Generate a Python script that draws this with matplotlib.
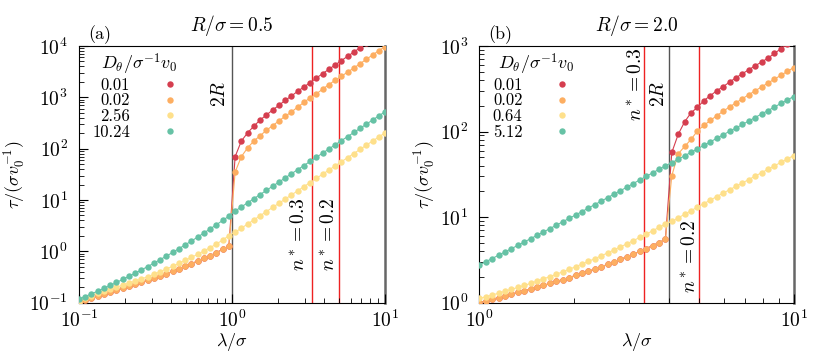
import matplotlib
matplotlib.use('Agg')
import matplotlib.pyplot as plt
from matplotlib.lines import Line2D
from matplotlib.ticker import LogLocator, NullFormatter

plt.rcParams['font.family'] = 'serif'
plt.rcParams['font.serif'] = ['cmr10']
plt.rcParams['mathtext.fontset'] = 'cm'
plt.rcParams['axes.formatter.use_mathtext'] = True

# ---- data: panel (a), R/sigma = 0.5 ----
lam_a = [0.1, 0.1099, 0.1207, 0.1326, 0.1456, 0.1600, 0.1758, 0.1931, 0.2121, 0.2330,
         0.2560, 0.2812, 0.3089, 0.3393, 0.3728, 0.4095, 0.4498, 0.4942, 0.5429, 0.5964,
         0.6551, 0.7197, 0.7906, 0.8685, 0.9541, 1.048, 1.151, 1.265, 1.389, 1.526,
         1.677, 1.842, 2.024, 2.223, 2.442, 2.683, 2.947, 3.237, 3.556, 3.907,
         4.292, 4.715, 5.179, 5.690, 6.251, 6.866, 7.543, 8.286, 9.103, 10.0]
red_a = [0.100, 0.111, 0.122, 0.133, 0.146, 0.159, 0.174, 0.191, 0.208, 0.228,
         0.249, 0.273, 0.303, 0.331, 0.368, 0.408, 0.454, 0.512, 0.576, 0.649,
         0.731, 0.824, 0.944, 1.10, 1.27, 70, 141, 204, 275, 362,
         453, 566, 699, 872, 1060, 1310, 1590, 1930, 2380, 2890,
         3520, 4270, 5180, 6300, 7620, 9260, 11300, 13700, 16600, 20000]
orange_a = [0.100, 0.111, 0.122, 0.133, 0.146, 0.159, 0.174, 0.191, 0.208, 0.228,
            0.249, 0.273, 0.303, 0.331, 0.368, 0.408, 0.454, 0.512, 0.576, 0.649,
            0.731, 0.824, 0.944, 1.10, 1.27, 35, 70, 104, 141, 179,
            228, 281, 347, 428, 517, 646, 795, 980, 1170, 1440,
            1770, 2150, 2560, 3110, 3720, 4520, 5510, 6680, 8110, 9760]
yellow_a = [0.105, 0.122, 0.137, 0.152, 0.167, 0.183, 0.200, 0.220, 0.241, 0.264,
            0.290, 0.322, 0.357, 0.403, 0.454, 0.512, 0.585, 0.669, 0.765, 0.875,
            1.02, 1.18, 1.39, 1.66, 2.02, 2.35, 2.83, 3.41, 4.10, 4.94,
            5.96, 7.17, 8.64, 10.4, 12.5, 15.1, 18.2, 21.9, 26.4, 31.8,
            38.3, 46.1, 55.6, 66.8, 80.5, 97.0, 117, 141, 169, 204]
green_a = [0.118, 0.132, 0.149, 0.168, 0.191, 0.217, 0.248, 0.284, 0.327, 0.377,
           0.436, 0.506, 0.590, 0.690, 0.810, 0.954, 1.13, 1.34, 1.59, 1.90,
           2.28, 2.74, 3.30, 4.00, 4.85, 6.10, 7.34, 8.84, 10.6, 12.8,
           15.4, 18.6, 22.3, 26.9, 32.4, 39.0, 46.9, 56.5, 68.1, 81.9,
           98.6, 119, 143, 172, 207, 249, 300, 361, 435, 524]
labels_a = ['0.01', '0.02', '2.56', '10.24']

# ---- data: panel (b), R/sigma = 2.0 ----
lam_b = [1.0, 1.048, 1.099, 1.151, 1.207, 1.265, 1.326, 1.389, 1.456, 1.526,
         1.600, 1.677, 1.758, 1.842, 1.931, 2.024, 2.121, 2.223, 2.330, 2.442,
         2.560, 2.683, 2.812, 2.947, 3.089, 3.237, 3.393, 3.556, 3.728, 3.907,
         4.095, 4.292, 4.498, 4.715, 4.942, 5.179, 5.429, 5.690, 5.964, 6.250,
         6.551, 6.866, 7.197, 7.543, 7.906, 8.286, 8.685, 9.102, 9.541, 10.0]
red_b = [1.00, 1.05, 1.09, 1.15, 1.20, 1.26, 1.32, 1.38, 1.45, 1.52,
         1.59, 1.68, 1.77, 1.86, 1.97, 2.08, 2.20, 2.33, 2.47, 2.63,
         2.80, 3.00, 3.21, 3.44, 3.69, 3.98, 4.30, 4.65, 5.05, 5.50,
         57, 93, 130, 166, 192, 230, 263, 300, 335, 379,
         426, 475, 528, 589, 650, 724, 820, 930, 1050, 1180]
orange_b = [1.00, 1.05, 1.09, 1.15, 1.20, 1.26, 1.32, 1.38, 1.45, 1.52,
            1.59, 1.68, 1.77, 1.86, 1.97, 2.08, 2.20, 2.33, 2.47, 2.63,
            2.80, 3.00, 3.21, 3.44, 3.69, 3.98, 4.30, 4.65, 5.05, 5.50,
            30.5, 55, 67, 81, 102, 118, 135, 153, 173, 194,
            217, 242, 270, 300, 333, 370, 410, 455, 505, 560]
yellow_b = [1.12, 1.17, 1.23, 1.29, 1.36, 1.43, 1.51, 1.59, 1.68, 1.79,
            1.90, 2.02, 2.15, 2.30, 2.46, 2.63, 2.83, 3.04, 3.27, 3.53,
            3.82, 4.14, 4.49, 4.88, 5.31, 5.79, 6.32, 6.92, 7.58, 8.33,
            8.9, 9.8, 10.8, 11.9, 13.1, 14.4, 15.8, 17.4, 19.1, 20.9,
            22.9, 25.1, 27.5, 30.2, 33.1, 36.3, 39.8, 43.6, 47.9, 52.5]
green_b = [2.75, 3.01, 3.28, 3.59, 3.92, 4.28, 4.68, 5.12, 5.60, 6.13,
           6.71, 7.35, 8.05, 8.83, 9.67, 10.6, 11.6, 12.8, 14.0, 15.4,
           16.9, 18.6, 20.4, 22.4, 24.7, 27.2, 29.9, 32.9, 36.2, 39.9,
           43.3, 47.5, 52.1, 57.3, 62.9, 69.1, 75.9, 83.4, 91.6, 101,
           110, 121, 133, 146, 161, 176, 194, 213, 234, 257]
labels_b = ['0.01', '0.02', '0.64', '5.12']

colors = ['#d53e4f', '#fdae61', '#fee08b', '#66c2a5']
n_star = [0.3, 0.2]


def draw_panel(ax, lam, series, labels, two_r, xlim, ylim, title, tag):
    ax.set_xscale('log')
    ax.set_yscale('log')
    ax.set_xlim(xlim)
    ax.set_ylim(ylim)

    ax.axvline(two_r, color='#555555', lw=1.0, zorder=1)
    ax.axvline(xlim[1], color='#666666', lw=1.8, zorder=1, clip_on=False)
    for n in n_star:
        ax.axvline(1.0 / n, color='#ee2222', lw=1.0, zorder=1)

    for y, c in zip(series, colors):
        ax.plot(lam, y, '-', color=c, lw=0.8, marker='o', ms=4.6, mew=0, zorder=3)

    handles = [Line2D([], [], ls='none', marker='o', ms=4.6, mew=0, color=c) for c in colors]
    leg = ax.legend(handles, labels, title=r'$D_\theta/\sigma^{-1}v_0$', loc='upper left',
                    bbox_to_anchor=(0.0, 1.03), frameon=False, markerfirst=False,
                    handlelength=2.0, handletextpad=1.4, labelspacing=0.02,
                    borderpad=0.3, fontsize=12, title_fontsize=13)
    for col in leg._legend_handle_box.get_children():
        col.align = 'right'

    ax.set_title(title, fontsize=14, pad=11)
    ax.text(0.03, 1.008, tag, transform=ax.transAxes, fontsize=13, va='bottom')
    ax.set_xlabel(r'$\lambda/\sigma$', fontsize=13, labelpad=0)
    ax.set_ylabel(r'$\tau/(\sigma v_0^{-1})$', fontsize=13, labelpad=1)

    ax.xaxis.set_major_locator(LogLocator(base=10, numticks=10))
    ax.xaxis.set_minor_locator(LogLocator(base=10, subs=range(2, 10), numticks=20))
    ax.xaxis.set_minor_formatter(NullFormatter())
    ax.yaxis.set_major_locator(LogLocator(base=10, numticks=10))
    ax.yaxis.set_minor_locator(LogLocator(base=10, subs=range(2, 10), numticks=20))
    ax.yaxis.set_minor_formatter(NullFormatter())
    ax.tick_params(which='both', direction='in', top=False, right=False, labelsize=14)
    ax.tick_params(which='major', length=6.5, width=0.8)
    ax.tick_params(which='minor', length=3.5, width=0.6)
    ax.tick_params(axis='x', which='major', pad=5)
    ax.tick_params(axis='y', which='major', pad=8)
    ax.spines['right'].set_visible(False)


fig = plt.figure(figsize=(8.22, 3.57), dpi=100)
ax1 = fig.add_axes([0.0961, 0.1521, 0.3723, 0.719])
ax2 = fig.add_axes([0.5831, 0.1521, 0.3825, 0.719])

draw_panel(ax1, lam_a, [red_a, orange_a, yellow_a, green_a], labels_a, 1.0,
           (0.1, 10), (0.1, 1e4), r'$R/\sigma = 0.5$', '(a)')
draw_panel(ax2, lam_b, [red_b, orange_b, yellow_b, green_b], labels_b, 4.0,
           (1, 10), (1, 1e3), r'$R/\sigma = 2.0$', '(b)')

kw = dict(rotation=90, fontsize=14, ha='center', va='center')
ax1.text(0.835, 1160, r'$2R$', **kw)
ax1.text(2.74, 2.18, r'$n^* = 0.3$', **kw)
ax1.text(4.3, 2.18, r'$n^* = 0.2$', **kw)
ax2.text(3.15, 360, r'$n^* = 0.3$', **kw)
ax2.text(3.74, 275, r'$2R$', **kw)
ax2.text(4.68, 3.5, r'$n^* = 0.2$', **kw)

fig.savefig('out.png', dpi=100)
